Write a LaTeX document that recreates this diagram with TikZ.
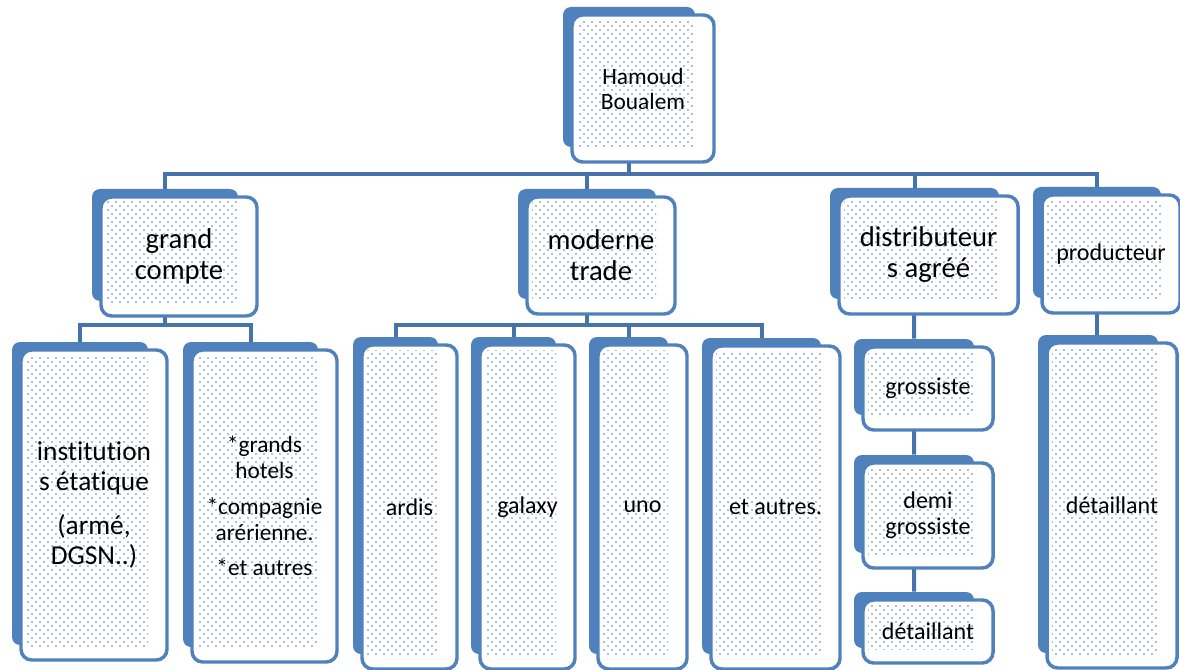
\documentclass[tikz,border=0pt]{standalone}
\usepackage{fontspec}
\setmainfont{Carlito}[Ligatures=NoCommon]
\usetikzlibrary{patterns.meta,backgrounds}
\definecolor{orgblue}{HTML}{4F81BD}
\definecolor{linkblue}{HTML}{4673AA}

\tikzdeclarepattern{
  name=orgdots,
  type=uncolored,
  bounding box={(-1pt,-1pt) and (5pt,5pt)},
  tile size={(6pt,6pt)},
  code={
    \fill (0pt,0pt) circle (0.7pt) (3pt,3pt) circle (0.7pt);
  }
}

\tikzset{
  backpane/.style={fill=orgblue, rounded corners=6pt, inner sep=0pt},
  frontpane/.style={draw=orgblue, fill=white, line width=2.6pt, rounded corners=8pt},
  dotpane/.style={pattern=orgdots, pattern color=orgblue},
  link/.style={draw=linkblue, line width=3pt},
  boxtext/.style={align=center, text=black, inner sep=0pt, font=\fontsize{18}{19.5}\selectfont},
  toptext/.style={font=\fontsize{17.5}{18.75}\selectfont},
  bigtext/.style={font=\fontsize{21.5}{23.25}\selectfont},
}

% back pane = node, front pane and dots drawn over it
\newcommand{\orgbox}[7][]{%
  \node[backpane, minimum width={(#5-#3-10)*0.75pt}, minimum height={(#6-#4-7)*0.75pt}]
    (#2) at ({(#3+#5)/2-14},{(#4+#6)/2-11.5}) {};
  \draw[frontpane] (#3,#4) rectangle (#5,#6);
  \fill[dotpane] (#3+5,#4+5) rectangle (#5-19,#6-14);
  \node[boxtext,#1] (#2-txt) at ({(#3+#5)/2},{(#4+#6)/2}) {#7};
}

\begin{document}
\begin{tikzpicture}[x=0.75pt, y=-0.75pt]
\useasboundingbox (0,0) rectangle (1180,670);

% top
\orgbox[toptext]{hb}{572}{15}{714}{162}{Hamoud\\Boualem}

% level 1
\orgbox[bigtext]{gc}{101}{197}{257}{316}{grand\\compte}
\orgbox[bigtext]{mt}{527}{197}{675}{314}{moderne\\trade}
\orgbox[bigtext]{da}{839}{196}{1018}{314}{distributeur\\s agréé}
\orgbox{pr}{1042}{195}{1180}{313}{producteur}

% level 2
\orgbox[font=\fontsize{20.5}{22.5}\selectfont]{inst}{21}{350}{167}{660}{institution\\s étatique\\[11pt](armé,\\DGSN..)}
\orgbox[font=\fontsize{17.5}{19.5}\selectfont]{hotels}{192}{350}{337}{662}{{*}grands\\hotels\\[7pt]{*}compagnie\\arérienne.\\[7pt]{*}et autres}
\orgbox{ardis}{362}{345}{457}{669}{ardis}
\orgbox{galaxy}{480}{345}{575}{669}{galaxy}
\orgbox{uno}{598}{345}{687}{669}{uno}
\orgbox{etaut}{711}{346}{840}{669}{et autres.}
\orgbox{gros}{863}{347}{993}{430}{grossiste}
\orgbox{demi}{863}{463}{993}{568}{demi\\grossiste}
\orgbox{detd}{863}{600}{993}{663}{détaillant}
\orgbox{detp}{1047}{343}{1177}{668}{détaillant}

% connectors
\begin{scope}[on background layer]
\coordinate (bar1) at (0,174);
\coordinate (bar2) at (0,325);
\draw[link] (hb) -- (hb |- bar1);
\draw[link] (gc.north) |- (pr |- bar1) -- (pr.north);
\foreach \n in {mt,da}
  \draw[link] (\n.north) -- (\n |- bar1);
\draw[link] (gc) -- (gc |- bar2);
\draw[link] (inst.north) |- (hotels |- bar2) -- (hotels.north);
\draw[link] (mt) -- (mt |- bar2);
\draw[link] (ardis.north) |- (etaut |- bar2) -- (etaut.north);
\foreach \n in {galaxy,uno}
  \draw[link] (\n.north) -- (\n |- bar2);
\draw[link] (da) -- (gros) -- (demi) -- (detd);
\draw[link] (pr) -- (pr |- detp.north);
\end{scope}
\end{tikzpicture}
\end{document}
